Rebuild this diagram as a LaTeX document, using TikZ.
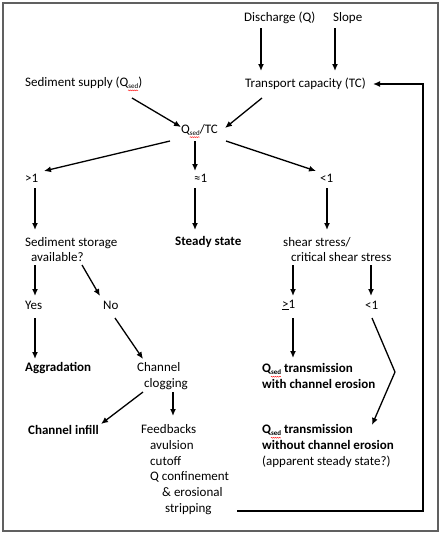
\documentclass[tikz,border=0pt]{standalone}
\usepackage{fontspec}
\setmainfont{Carlito}
\usetikzlibrary{arrows.meta,calc,decorations.pathmorphing}

\newcommand{\qsed}{Q\raisebox{-2pt}{\fontsize{7}{7}\selectfont sed}\llap{\tikz[baseline=0pt]\draw[red,line width=0.4pt,decorate,decoration={snake,amplitude=0.5pt,segment length=2pt}] (0pt,-4pt) -- (10pt,-4pt);}}

\tikzset{
    txt/.style={anchor=west, inner sep=0pt, align=left, font=\fontsize{13}{15.7}\selectfont},
    bld/.style={txt, font=\fontsize{13}{15.7}\selectfont\bfseries},
    arr/.style={-{Latex[length=7pt,width=6pt]}, line width=1.3pt},
}

\begin{document}
\begin{tikzpicture}[scale=1.0, x=1pt, y=-1pt]
    \useasboundingbox (0,0) rectangle (444,536);
    \draw[line width=2pt, gray!75!black] (2.5,2.5) rectangle (437.5,530.5);
    \node[txt] (disch) at (244,18) {Discharge (Q)};
    \node[txt] (slope) at (333,18) {Slope};
    \node[txt] (supply) at (25,84) {Sediment supply (\qsed)};
    \node[txt] (tc) at (245,84) {Transport capacity (TC)};
    \node[txt] (ratio) at (181,131) {\qsed/TC};
    \node[txt] (gt) at (25,178) {>1};
    \node[txt] (approx) at (194,178) {≈1};
    \node[txt] (lt) at (320,178) {<1};
    \node[txt] (storage) at (25,249.5) {Sediment storage\\\hspace*{6pt}available?};
    \node[bld] (steady) at (175,242) {Steady state};
    \node[txt] (shear) at (283,249.5) {shear stress/\\\hspace*{8pt}critical shear stress};
    \node[txt] (yes) at (25,305) {Yes};
    \node[txt] (no) at (103,305) {No};
    \node[txt] (ge) at (282,305) {\underline{>}1};
    \node[txt] (lt2) at (365,305) {<1};
    \node[bld] (aggr) at (25,368) {Aggradation};
    \node[txt] (clog) at (137,376) {Channel\\\hspace*{7pt}clogging};
    \node[bld] (trans) at (262,376) {\qsed{} transmission\\with channel erosion};
    \node[bld] (infill) at (28,430) {Channel infill};
    \node[txt] (feed) at (141,469.5) {Feedbacks\\\hspace*{9pt}avulsion\\\hspace*{9pt}cutoff\\\hspace*{9pt}Q confinement\\\hspace*{21pt}\& erosional\\\hspace*{24pt}stripping};
    \node[txt] (transno) at (262,446) {\textbf{\qsed{} transmission}\\\textbf{without channel erosion}\\(apparent steady state?)};
    \coordinate (bend) at (395,372);
    \coordinate (loop) at (423,511);
    \draw[arr] ($(disch.west)+(17,10)$) -- ($(tc.west)+(16,-13)$);  % disch -- tc
    \draw[arr] ($(slope.west)+(2,10)$) -- ($(tc.west)+(90,-13)$);  % slope -- tc
    \draw[arr] ($(supply.west)+(107,14)$) -- ($(ratio.west)+(0,-4)$);  % supply -- ratio
    \draw[arr] ($(tc.west)+(17,14)$) -- ($(ratio.west)+(44,-3)$);  % tc -- ratio
    \draw[arr] ($(ratio.west)+(-11,10)$) -- ($(gt.west)+(19,-7)$);  % ratio -- >1
    \draw[arr] ($(ratio.west)+(14,10)$) -- ($(approx.west)+(1,-7)$);  % ratio -- =1
    \draw[arr] ($(ratio.west)+(45,10)$) -- ($(lt.west)+(-4,-7)$);  % ratio -- <1
    \draw[arr] ($(gt.west)+(10,10)$) -- ($(storage.west)+(10,-19.5)$);  % >1 -- storage
    \draw[arr] ($(approx.west)+(1,10)$) -- ($(steady.west)+(20,-12)$);  % =1 -- steady
    \draw[arr] ($(lt.west)+(7,10)$) -- ($(shear.west)+(44,-19.5)$);  % <1 -- shear
    \draw[arr] ($(storage.west)+(10,15.5)$) -- ($(yes.west)+(10,-9)$);  % storage -- yes
    \draw[arr] ($(storage.west)+(57,15.5)$) -- ($(no.west)+(-3,-9)$);  % storage -- no
    \draw[arr] ($(shear.west)+(10,15.5)$) -- ($(ge.west)+(11,-9)$);  % shear -- >=1
    \draw[arr] ($(shear.west)+(88,15.5)$) -- ($(lt2.west)+(6,-9)$);  % shear -- <1
    \draw[arr] ($(yes.west)+(10,13)$) -- ($(aggr.west)+(10,-9)$);  % yes -- aggr
    \draw[arr] ($(no.west)+(12,13)$) -- ($(clog.west)+(6,-17)$);  % no -- clog
    \draw[arr] ($(ge.west)+(11,13)$) -- ($(trans.west)+(31,-18)$);  % >=1 -- trans
    \draw[arr] ($(lt2.west)+(7,13)$) -- (bend) -- ($(transno.west)+(110,-21)$);  % <1 -- transno
    \draw[arr] ($(clog.west)+(6,16)$) -- ($(infill.west)+(73,-6)$);  % clog -- infill
    \draw[arr] ($(clog.west)+(36,16)$) -- ($(feed.west)+(32,-53.5)$);  % clog -- feed
    \draw[arr] ($(feed.west)+(96,41.5)$) -- (loop) |- ($(tc.west)+(128,0)$);  % feed -- tc
\end{tikzpicture}
\end{document}
